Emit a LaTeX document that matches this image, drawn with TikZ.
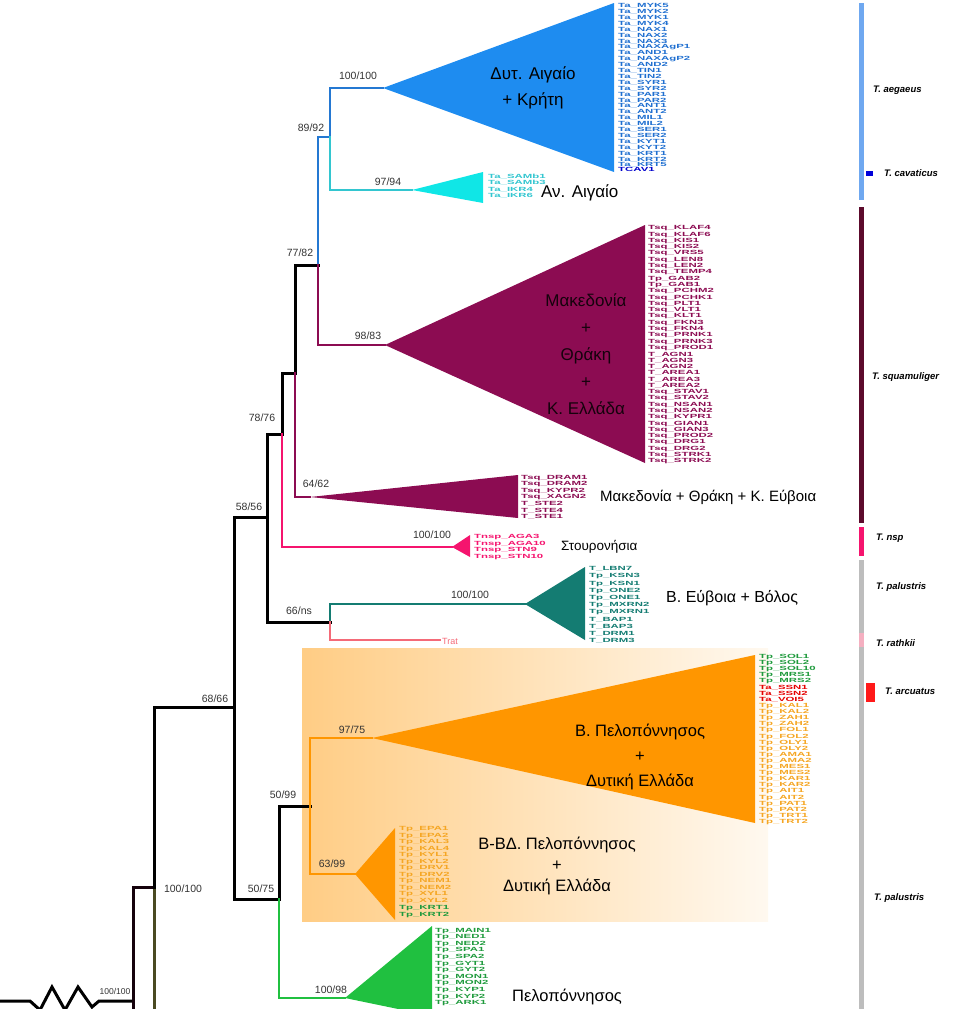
\documentclass[tikz,border=0pt]{standalone}
\usepackage{fontspec}
\setmainfont{Liberation Sans}
\newfontfamily\tipfont[FakeStretch=1.9]{Liberation Sans}
\usetikzlibrary{positioning}
\definecolor{aeg}{HTML}{1E8CF0}
\definecolor{aegline}{HTML}{2478D2}
\definecolor{aegtip}{HTML}{1F6FD0}
\definecolor{cyn}{HTML}{10E6E6}
\definecolor{cynline}{HTML}{33C6D0}
\definecolor{mac}{HTML}{8C0C52}
\definecolor{nsp}{HTML}{F5146E}
\definecolor{teal}{HTML}{147C72}
\definecolor{trat}{HTML}{F46A78}
\definecolor{pel}{HTML}{FF9600}
\definecolor{peltip}{HTML}{F5A623}
\definecolor{grn}{HTML}{20C040}
\definecolor{grntip}{HTML}{1E9A3C}
\definecolor{olive}{HTML}{4A4A22}
\definecolor{barblue}{HTML}{6FA8F0}
\definecolor{barmac}{HTML}{5C0A2C}
\definecolor{bargray}{HTML}{BDBDBD}
\definecolor{barpink}{HTML}{F4AFC0}
\tikzstyle{branch} = [line width=3pt, black, line cap=rect]
\tikzstyle{clade} = [line width=2.2pt, line cap=rect]
\tikzstyle{boot} = [font=\fontsize{10.5}{11}\selectfont, text=black!80, inner sep=0pt]
\tikzstyle{tip} = [font=\tipfont\fontsize{6}{6}\selectfont\bfseries, anchor=west, inner sep=0pt]
\tikzstyle{area} = [font=\fontsize{17}{26}\selectfont, align=center, inner sep=0pt]
\tikzstyle{species} = [font=\fontsize{9.5}{10}\selectfont\bfseries\itshape, anchor=west, inner sep=0pt]

\begin{document}
\begin{tikzpicture}[x=1pt, y=-1pt]
    \useasboundingbox (0,0) rectangle (964,1009);

    % shaded box behind the Peloponnese clades
    \shade[left color=pel!48, right color=pel!6] (302,648) rectangle (768,921);

    % internal nodes
    \coordinate (root) at (133,1001);
    \coordinate (nA) at (154,887);
    \coordinate (nB) at (234,707);
    \coordinate (nC) at (267,517);
    \coordinate (nE) at (282,434);
    \coordinate (nX) at (295,373);
    \coordinate (nG) at (318,265);
    \coordinate (nH) at (330,137);
    \coordinate (nF) at (330,622);
    \coordinate (nD) at (279,899);
    \coordinate (nI) at (310,806);
    \coordinate (out1) at (133,1012);
    \coordinate (out2) at (154,1012);
    \coordinate (zz) at (0,1001);

    % clade apices
    \coordinate (tblue) at (383,88);
    \coordinate (tcyan) at (412,190);
    \coordinate (tmac) at (385,345);
    \coordinate (tmac2) at (310,497);
    \coordinate (tnsp) at (452,547);
    \coordinate (tteal) at (525,604);
    \coordinate (ttrat) at (440,640);
    \coordinate (tpel) at (372,738);
    \coordinate (tpel2) at (355,874);
    \coordinate (tgrn) at (345,998);

    % collapsed clades
    \fill[aeg] (tblue) -- ++(231,-85) -- ++(0,169) -- cycle;
    \fill[cyn] (tcyan) -- ++(71,-18) -- ++(0,31) -- cycle;
    \fill[mac] (tmac) -- ++(260,-120) -- ++(0,238) -- cycle;
    \fill[mac] (tmac2) -- ++(208,-22) -- ++(0,43) -- cycle;
    \fill[nsp] (tnsp) -- ++(18,-12) -- ++(0,22) -- cycle;
    \fill[teal] (tteal) -- ++(60,-37) -- ++(0,73) -- cycle;
    \fill[pel] (tpel) -- ++(383,-83) -- ++(0,168) -- cycle;
    \fill[pel] (tpel2) -- ++(40,-46) -- ++(0,92) -- cycle;
    \fill[grn] (tgrn) -- ++(87,-72) -- ++(0,90) -- cycle;

    % branches
    \draw[branch, line join=miter] (zz) -- (30,1001) -- (40,1010) -- (52,987) -- (65,1010) -- (78,987) -- (92,1007) -- (99,1001) -- (root);
    \draw[branch, black!85!mac] (root) |- (nA);
    \draw[branch, black!85!mac] (root) -- (out1);
    \draw[branch, olive] (nA) -- (out2);
    \draw[branch] (nA) |- (nB);
    \draw[branch] (nB) |- (nC);
    \draw[branch] (nB) |- (nD);
    \draw[branch] (nC) |- (nE);
    \draw[branch] (nC) |- (nF);
    \draw[branch] (nE) |- (nX);
    \draw[clade, nsp] (nE) |- (tnsp);
    \draw[branch] (nX) |- (nG);
    \draw[clade, mac] (nX) |- (tmac2);
    \draw[clade, aegline] (nG) |- (nH);
    \draw[clade, mac] (nG) |- (tmac);
    \draw[clade, aegline] (nH) |- (tblue);
    \draw[clade, cynline] (nH) |- (tcyan);
    \draw[clade, teal] (nF) |- (tteal);
    \draw[clade, trat] (nF) |- (ttrat);
    \draw[branch] (nD) |- (nI);
    \draw[clade, grn] (nD) |- (tgrn);
    \draw[clade, pel] (nI) |- (tpel);
    \draw[clade, pel] (nI) |- (tpel2);

    % support values
    \node[boot] (b1) at (358,76) {100/100};
    \node[boot] (b2) at (311,128) {89/92};
    \node[boot] (b3) at (388,182) {97/94};
    \node[boot] (b4) at (300,253) {77/82};
    \node[boot] (b5) at (368,336) {98/83};
    \node[boot] (b6) at (262,418) {78/76};
    \node[boot] (b7) at (316,484) {64/62};
    \node[boot] (b8) at (249,507) {58/56};
    \node[boot] (b9) at (432,535) {100/100};
    \node[boot] (b10) at (470,595) {100/100};
    \node[boot] (b11) at (299,611) {66/ns};
    \node[boot] (b12) at (215,699) {68/66};
    \node[boot] (b13) at (352,730) {97/75};
    \node[boot] (b14) at (283,795) {50/99};
    \node[boot] (b15) at (332,864) {63/99};
    \node[boot] (b16) at (261,889) {50/75};
    \node[boot] (b17) at (183,889) {100/100};
    \node[boot] (b18) at (331,990) {100/98};
    \node[boot, font=\fontsize{8.5}{9}\selectfont] (b19) at (115,991) {100/100};

    % tip labels
    \foreach \t [count=\i] in {Ta\_MYK5, Ta\_MYK2, Ta\_MYK1, Ta\_MYK4, Ta\_NAX1, Ta\_NAX2, Ta\_NAX3, Ta\_NAXAgP1, Ta\_AND1, Ta\_NAXAgP2, Ta\_AND2, Ta\_TIN1, Ta\_TIN2, Ta\_SYR1, Ta\_SYR2, Ta\_PAR1, Ta\_PAR2, Ta\_ANT1, Ta\_ANT2, Ta\_MIL1, Ta\_MIL2, Ta\_SER1, Ta\_SER2, Ta\_KYT1, Ta\_KYT2, Ta\_KRT1, Ta\_KRT2, Ta\_KRT5}
        \node[tip, text=aegtip] (tb\i) at (618,{0+5.9*\i}) {\t};
    \node[tip, text=blue!80!black] (tcav) at (618,169) {TCAV1};
    \foreach \t [count=\i] in {Ta\_SAMb1, Ta\_SAMb3, Ta\_IKR4, Ta\_IKR6}
        \node[tip, text=cynline] (tc\i) at (488,{170+6.5*\i}) {\t};
    \foreach \t [count=\i] in {Tsq\_KLAF4, Tsq\_KLAF6, Tsq\_KIS1, Tsq\_KIS2, Tsq\_VRS5, Tsq\_LEN8, Tsq\_LEN2, Tsq\_TEMP4, Tp\_GAB2, Tp\_GAB1, Tsq\_PCHM2, Tsq\_PCHK1, Tsq\_PLT1, Tsq\_VLT1, Tsq\_KLT1, Tsq\_FKN3, Tsq\_FKN4, Tsq\_PRNK1, Tsq\_PRNK3, Tsq\_PROD1, T\_AGN1, T\_AGN3, T\_AGN2, T\_AREA1, T\_AREA3, T\_AREA2, Tsq\_STAV1, Tsq\_STAV2, Tsq\_NSAN1, Tsq\_NSAN2, Tsq\_KYPR1, Tsq\_GIAN1, Tsq\_GIAN3, Tsq\_PROD2, Tsq\_DRG1, Tsq\_DRG2, Tsq\_STRK1, Tsq\_STRK2}
        \node[tip, text=mac] (tm\i) at (648,{222+6.3*\i}) {\t};
    \foreach \t [count=\i] in {Tsq\_DRAM1, Tsq\_DRAM2, Tsq\_KYPR2, Tsq\_XAGN2, T\_STE2, T\_STE4, T\_STE1}
        \node[tip, text=mac] (tk\i) at (521,{471+6.6*\i}) {\t};
    \foreach \t [count=\i] in {Tnsp\_AGA3, Tnsp\_AGA10, Tnsp\_STN9, Tnsp\_STN10}
        \node[tip, text=nsp] (tn\i) at (474,{530+6.8*\i}) {\t};
    \foreach \t [count=\i] in {T\_LBN7, Tp\_KSN3, Tp\_KSN1, Tp\_ONE2, Tp\_ONE1, Tp\_MXRN2, Tp\_MXRN1, T\_BAP1, T\_BAP3, T\_DRM1, T\_DRM3}
        \node[tip, text=teal] (tt\i) at (589,{562+7.2*\i}) {\t};
    \node[tip, font=\fontsize{9}{9}\selectfont, text=trat] (trl) at (442,641) {Trat};
    \foreach \t [count=\i] in {Tp\_SOL1, Tp\_SOL2, Tp\_SOL10, Tp\_MRS1, Tp\_MRS2}
        \node[tip, text=grntip] (tg\i) at (759,{651+6.1*\i}) {\t};
    \foreach \t [count=\i] in {Ta\_SSN1, Ta\_SSN2, Ta\_VOI5}
        \node[tip, text=red!90!black] (tr\i) at (759,{681.5+6.1*\i}) {\t};
    \foreach \t [count=\i] in {Tp\_KAL1, Tp\_KAL2, Tp\_ZAH1, Tp\_ZAH2, Tp\_FOL1, Tp\_FOL2, Tp\_OLY1, Tp\_OLY2, Tp\_AMA1, Tp\_AMA2, Tp\_MES1, Tp\_MES2, Tp\_KAR1, Tp\_KAR2, Tp\_AIT1, Tp\_AIT2, Tp\_PAT1, Tp\_PAT2, Tp\_TRT1, Tp\_TRT2}
        \node[tip, text=peltip] (to\i) at (759,{700+6.1*\i}) {\t};
    \foreach \t [count=\i] in {Tp\_EPA1, Tp\_EPA2, Tp\_KAL3, Tp\_KAL4, Tp\_KYL1, Tp\_KYL2, Tp\_DRV1, Tp\_DRV2, Tp\_NEM1, Tp\_NEM2, Tp\_XYL1, Tp\_XYL2}
        \node[tip, text=peltip] (ts\i) at (399,{823+6.5*\i}) {\t};
    \foreach \t [count=\i] in {Tp\_KRT1, Tp\_KRT2}
        \node[tip, text=grntip] (tq\i) at (399,{901+7*\i}) {\t};
    \foreach \t [count=\i] in {Tp\_MAIN1, Tp\_NED1, Tp\_NED2, Tp\_SPA1, Tp\_SPA2, Tp\_GYT1, Tp\_GYT2, Tp\_MON1, Tp\_MON2, Tp\_KYP1, Tp\_KYP2, Tp\_ARK1}
        \node[tip, text=grntip] (tp\i) at (435,{924+6.6*\i}) {\t};

    % area names
    \node[area] (a1) at (533,88) {Δυτ. Αιγαίο\\+ Κρήτη};
    \node[area, anchor=west] (a2) at (541,193) {Αν. Αιγαίο};
    \node[area, text=black!85!mac, font=\fontsize{17}{27}\selectfont] (a3) at (586,354) {Μακεδονία\\+\\Θράκη\\+\\Κ. Ελλάδα};
    \node[area, anchor=west, font=\fontsize{15}{16}\selectfont] (a4) at (600,497) {Μακεδονία + Θράκη + Κ. Εύβοια};
    \node[area, anchor=west, font=\fontsize{13.5}{14}\selectfont] (a5) at (561,547) {Στουρονήσια};
    \node[area, anchor=west, font=\fontsize{16}{17}\selectfont] (a6) at (666,598) {Β. Εύβοια + Βόλος};
    \node[area, font=\fontsize{16.5}{25}\selectfont] (a7) at (640,757) {Β. Πελοπόννησος\\+\\Δυτική Ελλάδα};
    \node[area, font=\fontsize{16.5}{21}\selectfont] (a8) at (557,866) {Β-ΒΔ. Πελοπόννησος\\+\\Δυτική Ελλάδα};
    \node[area, font=\fontsize{16.5}{20}\selectfont] (a9) at (567,997) {Πελοπόννησος};

    % species bar
    \fill[barblue] (859,3) rectangle (864,200);
    \fill[blue!85!black] (866,171) rectangle (873,176);
    \fill[barmac] (859,207) rectangle (864,523);
    \fill[nsp] (859,527) rectangle (864,556);
    \fill[bargray] (859,560) rectangle (864,1009);
    \fill[barpink] (859,633) rectangle (864,647);
    \fill[red!90] (866,683) rectangle (875,702);
    \node[species] (s1) at (873,90) {T. aegaeus};
    \node[species] (s2) at (884,173) {T. cavaticus};
    \node[species] (s3) at (872,377) {T. squamuliger};
    \node[species] (s4) at (876,538) {T. nsp};
    \node[species] (s5) at (876,587) {T. palustris};
    \node[species] (s6) at (876,643) {T. rathkii};
    \node[species] (s7) at (885,691) {T. arcuatus};
    \node[species] (s8) at (874,898) {T. palustris};
\end{tikzpicture}
\end{document}
